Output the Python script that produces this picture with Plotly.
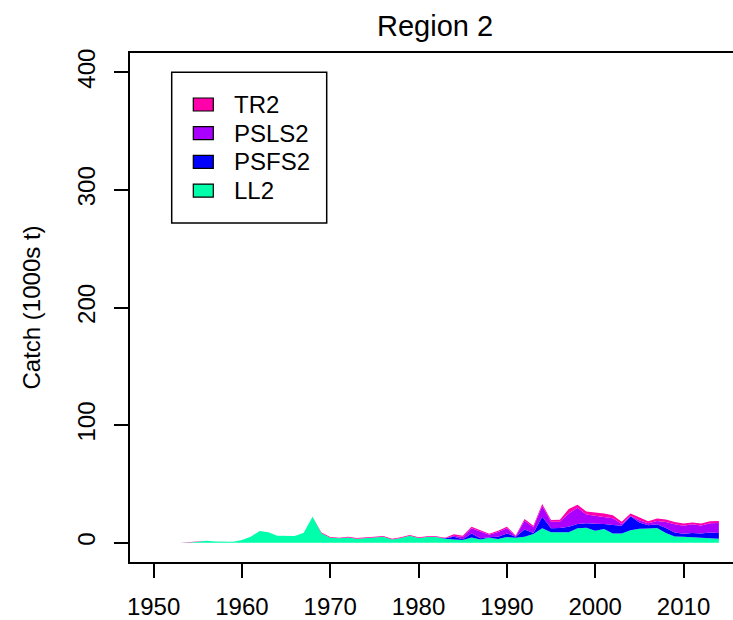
import plotly.graph_objects as go

years = list(range(1953, 2015))

LL2 = [0, 0.1, 0.9, 1.7, 1.1, 0.9, 0.9,
       2.3, 5.1, 9.9, 9.0, 6.0, 5.7, 5.7, 8.5, 22.1, 8.0,
       4.3, 3.7, 4.5, 3.4, 3.7, 4.5, 5.1, 2.8, 4.0, 6.0,
       4.0, 4.8, 4.8, 3.4, 2.8, 2.3, 4.5, 2.8, 4.3, 3.1,
       4.8, 4.3, 5.1, 7.4, 12.2, 8.8, 8.8, 8.8, 12.2, 12.8,
       10.2, 11.6, 7.9, 7.9, 10.5, 11.9, 12.0, 12.5, 8.2, 5.2,
       5.1, 4.7, 4.0, 3.6, 3.4]

PSFS2 = [0] * 30 + [0.3, 2.3, 0.6, 3.4, 0.9, 0.4, 2.0,
                    3.1, 0.8, 6.2, 0.8, 9.9, 3.4, 3.7, 4.8, 3.7, 3.7,
                    6.0, 4.4, 7.1, 6.6, 12.0, 5.3, 2.9, 3.2, 4.3, 3.5,
                    2.6, 3.5, 3.8, 5.0, 4.8]

PSLS2 = [0] * 31 + [0.9, 2.0, 4.3, 5.7, 2.0, 4.0,
                    4.3, 0.5, 7.4, 4.9, 9.1, 5.7, 5.4, 11.3, 13.9, 7.5,
                    6.6, 6.0, 5.9, 1.5, 0.5, 2.0, 1.6, 2.8, 5.1, 7.1,
                    6.8, 7.4, 6.9, 7.9, 8.6]

TR2 = ([0, 0.4, 0.3] + [0] * 13 +
       [0.6] * 15 +
       [1.1, 1.1, 1.4, 1.1, 0.9, 1.1,
        1.4, 0.6, 1.4, 1.4, 1.7, 1.4, 1.7, 3.7, 2.5, 2.5,
        3.2, 2.9, 2.4, 1.8, 1.9, 2.2, 1.8, 2.0, 2.1, 1.8,
        1.8, 1.5, 1.7, 1.8, 1.6])

series_names = ["LL2", "PSFS2", "PSLS2", "TR2"]
series_values = [LL2, PSFS2, PSLS2, TR2]
series_colors = ["#00FFAA", "#0000FF", "#AA00FF", "#FF00AA"]

x_ticks = [1950, 1960, 1970, 1980, 1990, 2000, 2010]
y_ticks = [0, 100, 200, 300, 400]

FONT = "Liberation Sans, Arial, sans-serif"
W, H = 733, 620
L, R, T, B = 130, 0, 53, 58
pw, ph = W - L - R, H - T - B

fig = go.Figure()
for name, vals, col in zip(series_names, series_values, series_colors):
    fig.add_trace(go.Scatter(
        x=years, y=vals, name=name, mode="lines",
        stackgroup="catch", line=dict(width=0, color=col),
        fillcolor=col, showlegend=False))

def px_x(px):
    return (px - L) / pw

def px_y(py):
    return 1 - (py - T) / ph

shapes = []
annotations = []
# legend box
shapes.append(dict(type="rect", xref="paper", yref="paper",
                   x0=px_x(171.7), x1=px_x(326.7), y0=px_y(223), y1=px_y(72.3),
                   line=dict(color="black", width=1.5), fillcolor="white"))
leg_order = ["TR2", "PSLS2", "PSFS2", "LL2"]
row_y = [104.5, 133.2, 161.9, 190.6]
for nm, yc in zip(leg_order, row_y):
    col = series_colors[series_names.index(nm)]
    shapes.append(dict(type="rect", xref="paper", yref="paper",
                       x0=px_x(193.3), x1=px_x(213.3),
                       y0=px_y(yc + 6.5), y1=px_y(yc - 6.5),
                       line=dict(color="black", width=1.2), fillcolor=col))
    annotations.append(dict(text=nm, xref="paper", yref="paper",
                            x=px_x(231.5), y=px_y(yc), xanchor="left", yanchor="middle",
                            showarrow=False, font=dict(family=FONT, size=24, color="black")))

annotations.append(dict(text="Region 2", xref="paper", yref="paper",
                        x=px_x(435), y=px_y(26), xanchor="center", yanchor="middle",
                        showarrow=False, font=dict(family=FONT, size=29, color="black")))
annotations.append(dict(text="Catch (1000s t)", xref="paper", yref="paper",
                        x=px_x(31), y=0.5, xanchor="center", yanchor="middle",
                        textangle=-90, showarrow=False,
                        font=dict(family=FONT, size=24, color="black")))

fig.update_layout(
    width=W, height=H,
    margin=dict(l=L, r=R, t=T, b=B, pad=0, autoexpand=False),
    paper_bgcolor="white", plot_bgcolor="white",
    showlegend=False,
    shapes=shapes, annotations=annotations,
    xaxis=dict(range=[1947.33, 2015.6], tickmode="array", tickvals=x_ticks,
               ticks="outside", ticklen=14, tickwidth=1.5, tickcolor="black",
               showline=True, linecolor="black", linewidth=1.5, mirror=True,
               showgrid=False, zeroline=False, ticklabelstandoff=8, automargin=False,
               tickfont=dict(family=FONT, size=24, color="black")),
    yaxis=dict(range=[-16.4, 416.4], tickmode="array", tickvals=y_ticks,
               ticks="outside", ticklen=14, tickwidth=1.5, tickcolor="black",
               showline=True, linecolor="black", linewidth=1.5, automargin=False,
               showgrid=False, zeroline=False, tickangle=-90, ticklabelstandoff=10,
               tickfont=dict(family=FONT, size=24, color="black")),
)

fig.write_html("out.html")
